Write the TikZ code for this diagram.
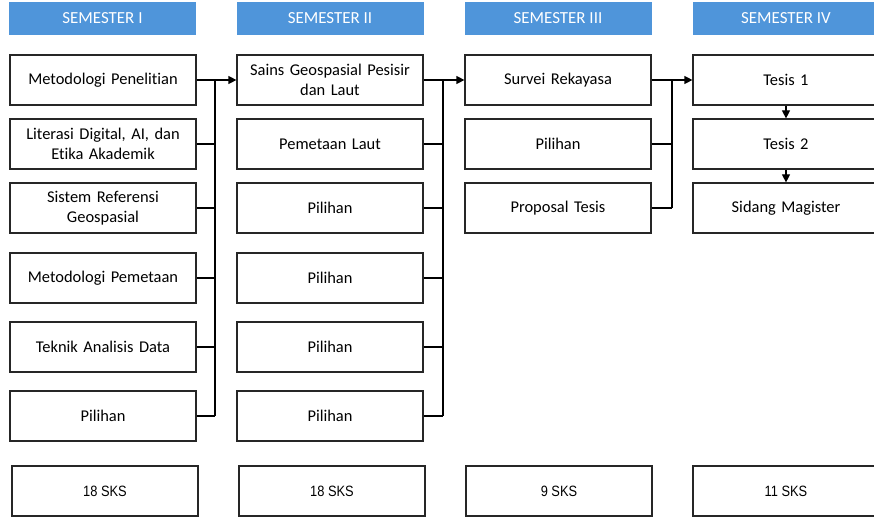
\documentclass[tikz,border=0pt]{standalone}
\usepackage{fontspec}
\setmainfont[Ligatures=NoCommon]{Carlito}
\newfontfamily\sksfont[FakeStretch=0.86]{Liberation Sans}
\usetikzlibrary{arrows.meta}
\definecolor{headblue}{HTML}{4F95DA}
\definecolor{boxline}{HTML}{262626}

\tikzset{
  course/.style={draw=boxline, line width=1.2bp, fill=white, minimum width=186bp,
    minimum height=50bp, inner sep=2bp, align=center, text width=182bp,
    font=\fontsize{16.5}{19.5}\selectfont, text=black},
  semhead/.style={fill=headblue, minimum width=187bp, minimum height=33bp,
    inner sep=0pt, text=white, font=\fontsize{17}{19}\selectfont},
  skstotal/.style={draw=boxline, line width=1.2bp, minimum width=186bp,
    minimum height=50bp, inner sep=0pt, font=\sksfont\fontsize{15}{18}\selectfont},
  link/.style={draw=black, line width=1.2bp},
  flow/.style={link, -{Triangle[length=8bp,width=8bp]}}
}

\begin{document}
\begin{tikzpicture}[x=1bp,y=-1bp]
\useasboundingbox (0,0) rectangle (874,517);
\clip (0,0) rectangle (874,517);

% semester headers
\node[semhead] (h1) at (102.5,18.5) {SEMESTER I};
\node[semhead] (h2) at (330,18.5) {SEMESTER II};
\node[semhead] (h3) at (558,18.5) {SEMESTER III};
\node[semhead] (h4) at (786,18.5) {SEMESTER IV};

% semester I
\node[course] (a1) at (103,80)  {Metodologi Penelitian};
\node[course] (a2) at (103,144) {Literasi Digital, AI, dan\\Etika Akademik};
\node[course] (a3) at (103,208) {Sistem Referensi\\Geospasial};
\node[course] (a4) at (103,278) {Metodologi Pemetaan};
\node[course] (a5) at (103,347) {Teknik Analisis Data};
\node[course] (a6) at (103,416) {Pilihan};

% semester II
\node[course] (b1) at (330,80)  {Sains Geospasial Pesisir\\dan Laut};
\node[course] (b2) at (330,144) {Pemetaan Laut};
\node[course] (b3) at (330,208) {Pilihan};
\node[course] (b4) at (330,278) {Pilihan};
\node[course] (b5) at (330,347) {Pilihan};
\node[course] (b6) at (330,416) {Pilihan};

% semester III
\node[course] (c1) at (558,80)  {Survei Rekayasa};
\node[course] (c2) at (558,144) {Pilihan};
\node[course] (c3) at (558,208) {Proposal Tesis};

% semester IV
\node[course] (d1) at (786,80)  {Tesis 1};
\node[course] (d2) at (786,144) {Tesis 2};
\node[course] (d3) at (786,208) {Sidang Magister};

% credit totals
\node[skstotal] (k1) at (105,491) {18 SKS};
\node[skstotal] (k2) at (332,491) {18 SKS};
\node[skstotal] (k3) at (559,491) {9 SKS};
\node[skstotal] (k4) at (786,491) {11 SKS};

% collector lines between semesters
\coordinate (t1) at (215,80);
\coordinate (t2) at (443,80);
\coordinate (t3) at (672,80);

\draw[flow] (a1.east) -- (b1.west);
\draw[link] (t1) -- (a6.east -| t1);
\foreach \n in {a2,a3,a4,a5,a6} \draw[link] (\n.east) -- (\n.east -| t1);

\draw[flow] (b1.east) -- (c1.west);
\draw[link] (t2) -- (b6.east -| t2);
\foreach \n in {b2,b3,b4,b5,b6} \draw[link] (\n.east) -- (\n.east -| t2);

\draw[flow] (c1.east) -- (d1.west);
\draw[link] (t3) -- (c3.east -| t3);
\foreach \n in {c2,c3} \draw[link] (\n.east) -- (\n.east -| t3);

% thesis sequence
\draw[flow] (d1.south) -- (d2.north);
\draw[flow] (d2.south) -- (d3.north);
\end{tikzpicture}
\end{document}
